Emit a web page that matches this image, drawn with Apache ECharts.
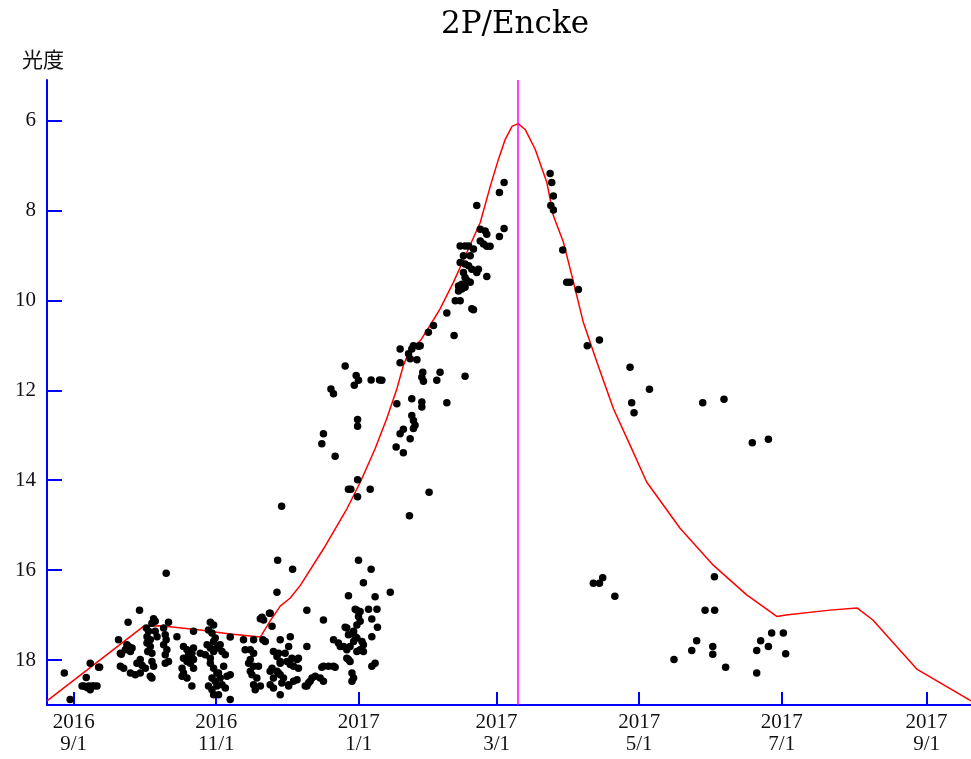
<!DOCTYPE html>
<html><head><meta charset="utf-8">
<script src="https://cdn.jsdelivr.net/npm/echarts@6/dist/echarts.min.js"></script>
<style>html,body{margin:0;padding:0;background:#fff}#c{width:971px;height:759px}</style>
</head><body><div id="c"></div>
<script>
// ---- data ----
const chartTitle = '2P/Encke';
const yAxisName = '光度';
const baseDate = '2016-09-01';              // day 0 of the day offsets below
const xRangeDays = [-11.4, 384];            // axis range, days from baseDate
const yRange = [5.1, 19];                   // magnitude (inverted axis)
const yTicks = [6, 8, 10, 12, 14, 16, 18];
const xTickDates = ['2016-09-01','2016-11-01','2017-01-01','2017-03-01','2017-05-01','2017-07-01','2017-09-01'];
const perihelionDate = '2017-03-10';

// model light curve (days from baseDate, magnitude)
const modelDay = [-11.4, 29.9, 37.1, 54.2, 67.0, 79.9, 84.1, 88.4, 92.7, 97.0, 107.0, 117.0, 122.7, 129.0, 134.0, 138.3, 141.1, 144.0, 148.3, 152.5, 156.8, 162.5, 168.3, 174.0, 178.3, 181.8, 184.7, 187.6, 190.2, 193.2, 197.5, 202.5, 205.3, 209.6, 213.2, 218.1, 223.9, 231.0, 238.1, 245.2, 259.5, 273.7, 288.0, 300.9, 304.8, 323.6, 335.2, 342.0, 360.8, 384.0];
const modelMag = [18.91, 17.25, 17.24, 17.33, 17.42, 17.49, 17.13, 16.80, 16.62, 16.34, 15.52, 14.63, 14.04, 13.30, 12.63, 11.97, 11.45, 11.08, 10.90, 10.56, 10.19, 9.60, 8.93, 8.27, 7.46, 6.86, 6.42, 6.13, 6.07, 6.20, 6.64, 7.38, 8.12, 8.71, 9.45, 10.49, 11.37, 12.41, 13.22, 14.04, 15.07, 15.89, 16.55, 17.03, 17.00, 16.89, 16.84, 17.11, 18.20, 18.91];

// observations [days from baseDate, magnitude]
const obsSep = [[-4.0,18.29],[-1.5,18.88],[3.6,18.58],[4.3,18.58],[5.7,18.61],[6.4,18.58],[7.9,18.58],[8.6,18.58],[10.0,18.58],[7.1,18.66],[5.4,18.39],[7.1,18.07],[10.7,18.16],[11.1,18.16]];
const obsOct = [[28.2,16.89],[23.3,17.16],[34.2,17.08],[34.9,17.14],[33.5,17.18],[40.6,17.16],[19.2,17.55],[31.1,17.29],[32.1,17.36],[31.4,17.48],[32.8,17.55],[34.9,17.36],[35.7,17.48],[38.5,17.29],[39.2,17.44],[39.6,17.55],[44.2,17.48],[51.3,17.36],[22.8,17.66],[24.0,17.75],[22.1,17.77],[20.0,17.85],[25.0,17.73],[31.4,17.62],[32.8,17.70],[31.7,17.81],[33.5,17.85],[38.5,17.66],[39.9,17.77],[39.2,17.88],[40.6,18.03],[47.0,17.70],[48.5,17.77],[49.2,17.88],[47.0,17.96],[48.5,18.03],[50.6,17.85],[51.3,17.73],[28.5,17.99],[27.1,18.07],[29.3,18.12],[30.7,18.18],[20.0,18.14],[21.4,18.18],[33.5,18.03],[34.2,18.14],[39.2,18.07],[24.3,18.29],[26.4,18.33],[28.5,18.29],[32.8,18.36],[33.5,18.40],[46.4,18.18],[47.0,18.29],[48.5,18.40],[46.4,18.36],[51.3,17.99],[49.9,18.07],[50.6,18.58],[39.6,16.07],[23.5,17.70],[24.3,17.81],[20.4,17.87],[50.6,17.96],[51.3,18.18]];
const obsNov = [[58.5,17.16],[59.9,17.22],[57.7,17.33],[59.2,17.40],[60.6,17.51],[59.9,17.59],[67.0,17.49],[57.1,17.66],[58.5,17.73],[59.9,17.81],[61.3,17.73],[62.7,17.66],[63.5,17.81],[54.2,17.85],[56.3,17.88],[58.5,17.96],[64.9,17.88],[58.5,18.07],[59.9,18.18],[61.3,18.29],[59.2,18.40],[60.6,18.47],[62.7,18.40],[65.6,18.36],[67.0,18.33],[64.2,18.14],[62.0,18.29],[57.7,18.58],[59.2,18.66],[61.3,18.58],[63.5,18.55],[64.9,18.62],[59.9,18.77],[62.0,18.77],[67.0,18.88]];
const obsDec = [[72.7,17.55],[77.0,17.55],[79.9,17.08],[81.3,17.11],[83.8,16.96],[84.9,17.25],[87.0,16.49],[81.0,17.55],[82.0,17.59],[88.4,17.55],[92.7,17.48],[92.0,17.70],[73.4,17.77],[75.6,17.77],[77.0,17.85],[85.5,17.81],[87.0,17.92],[88.4,18.03],[90.5,17.85],[91.3,18.03],[93.4,17.96],[95.6,17.99],[75.6,17.99],[74.9,18.07],[77.0,18.14],[79.1,18.14],[75.6,18.25],[76.3,18.33],[78.4,18.40],[84.1,18.25],[87.0,18.25],[88.4,18.33],[85.5,18.40],[89.8,18.40],[92.0,18.55],[94.1,18.14],[96.2,18.18],[77.0,18.55],[79.9,18.58],[84.1,18.55],[85.5,18.62],[88.4,18.77],[77.7,18.66],[87.7,17.85],[92.7,18.10],[96.2,17.96],[94.1,18.47],[95.6,18.44],[89.1,18.51],[92.0,18.58],[84.9,18.18],[87.7,18.29],[88.4,18.07],[87.3,15.78],[93.7,15.98],[89.0,14.58],[84.1,16.96],[80.6,17.05]];
const obsJan = [[99.8,16.89],[106.9,17.11],[99.8,17.70],[111.2,17.55],[99.8,18.58],[101.2,18.47],[103.4,18.36],[99.1,18.58],[100.5,18.51],[102.0,18.40],[105.5,18.40],[106.9,18.47],[106.9,18.14],[109.1,18.14],[111.2,18.14],[117.6,16.57],[121.2,16.89],[121.9,17.03],[116.9,17.29],[117.6,17.44],[119.8,17.36],[121.2,17.22],[122.6,17.14],[113.3,17.62],[115.5,17.70],[116.9,17.77],[118.3,17.70],[119.8,17.59],[121.2,17.51],[116.9,17.96],[118.3,18.03],[119.1,18.29],[119.8,18.40],[121.9,15.78],[127.3,15.98],[124.0,16.28],[135.5,16.49],[129.0,16.59],[120.5,16.87],[122.6,16.92],[126.2,16.87],[129.8,16.87],[127.6,17.09],[116.2,17.27],[130.0,17.27],[114.1,17.70],[120.5,17.48],[123.4,17.59],[124.0,17.66],[127.6,17.48],[121.2,17.81],[122.6,17.77],[124.0,17.81],[117.6,17.99],[127.6,18.14],[129.0,18.07],[106.2,18.16],[111.9,18.16],[119.1,18.47]];
const obsRise = [[116.2,11.46],[120.9,11.67],[121.9,11.78],[120.1,11.89],[127.3,11.77],[130.9,11.77],[110.1,11.97],[111.2,12.08],[121.5,12.65],[121.5,12.80],[106.9,12.97],[106.2,13.19],[111.9,13.47],[121.5,13.99],[117.6,14.20],[118.6,14.20],[121.5,14.37],[126.9,14.20],[139.7,11.08],[143.3,11.19],[145.4,11.01],[147.6,11.02],[139.7,11.39],[144.0,11.30],[146.9,11.32],[149.4,11.60],[149.0,11.71],[149.7,11.80],[155.4,11.78],[156.8,11.60],[138.3,12.30],[144.7,12.19],[149.0,12.26],[149.0,12.37],[144.7,12.56],[145.4,12.67],[146.1,12.78],[145.4,12.85],[141.1,12.87],[139.7,12.97],[144.0,13.08],[138.0,13.26],[141.1,13.39],[152.1,14.27],[143.7,14.79],[131.9,11.78],[159.7,12.28],[167.5,11.69],[144.7,11.08],[148.3,11.01]];
const obsFeb = [[184.2,7.38],[182.2,7.60],[172.5,7.89],[184.2,8.40],[182.2,8.58],[174.0,8.42],[176.1,8.46],[176.8,8.53],[174.0,8.68],[175.4,8.75],[176.8,8.80],[178.2,8.80],[165.4,8.79],[167.5,8.79],[169.0,8.79],[171.1,8.86],[166.8,9.01],[169.7,9.01],[165.4,9.16],[167.5,9.19],[169.0,9.23],[170.4,9.31],[173.2,9.31],[172.5,9.38],[176.8,9.47],[166.8,9.38],[167.5,9.49],[168.3,9.56],[166.1,9.64],[164.7,9.68],[166.1,9.75],[164.7,9.79],[167.5,9.71],[169.7,9.60],[163.3,10.01],[165.4,10.01],[170.4,10.19],[171.1,10.21],[159.7,10.28],[154.0,10.56],[151.8,10.71],[162.8,10.78]];
const obsAfter = [[203.9,7.18],[204.6,7.38],[205.3,7.68],[204.2,7.89],[205.3,7.99],[209.3,8.88],[211.0,9.60],[212.4,9.60],[216.0,9.76],[219.8,11.01],[225.0,10.88],[238.1,11.49],[246.4,11.98],[238.8,12.28],[239.8,12.50],[269.2,12.28],[278.3,12.20],[290.4,13.17],[297.3,13.09],[222.4,16.29],[225.0,16.29],[226.4,16.17],[231.6,16.58],[274.2,16.15],[270.2,16.89],[274.3,16.89],[256.9,17.99],[264.5,17.79],[266.6,17.57],[273.5,17.70],[273.5,17.87],[279.0,18.16],[292.3,17.79],[294.0,17.57],[297.3,17.70],[298.7,17.40],[303.7,17.40],[304.7,17.86],[292.3,18.29]];

// ---- build ----
const DAY = 86400000;
const base = Date.parse(baseDate + 'T00:00:00Z');
const toTs = d => base + d * DAY;
const obs = [].concat(obsSep, obsOct, obsNov, obsDec, obsJan, obsRise, obsFeb, obsAfter).map(p => [toTs(p[0]), p[1]]);
const model = modelDay.map((d, i) => [toTs(d), modelMag[i]]);
const xTicks = xTickDates.map(s => Date.parse(s + 'T00:00:00Z'));
const peri = Date.parse(perihelionDate + 'T00:00:00Z');

const blue = '#0000ff';
const chart = echarts.init(document.getElementById('c'));
chart.setOption({
  backgroundColor: '#ffffff',
  animation: false,
  title: {
    text: chartTitle, left: 510, top: 4, textAlign: 'center',
    textStyle: { fontFamily: 'DejaVu Serif', fontSize: 31, fontWeight: 'normal', color: '#000' }
  },
  grid: { left: 47, right: 0, top: 80, bottom: 54, containLabel: false },
  xAxis: {
    type: 'value', min: toTs(xRangeDays[0]), max: toTs(xRangeDays[1]),
    axisLine: { show: true, onZero: false, lineStyle: { color: blue, width: 2 } },
    axisTick: { show: true, inside: true, length: 13, customValues: xTicks, lineStyle: { color: blue, width: 2 } },
    axisLabel: {
      customValues: xTicks, margin: 6, color: '#111',
      fontFamily: 'Liberation Serif', fontSize: 21, lineHeight: 22,
      formatter: v => { const d = new Date(v); return d.getUTCFullYear() + '\n' + (d.getUTCMonth() + 1) + '/' + d.getUTCDate(); }
    },
    splitLine: { show: false }
  },
  yAxis: {
    type: 'value', inverse: true, min: yRange[0], max: yRange[1],
    axisLine: { show: true, lineStyle: { color: blue, width: 2 } },
    axisTick: { show: true, inside: true, length: 15, customValues: yTicks, lineStyle: { color: blue, width: 2 } },
    axisLabel: { customValues: yTicks, margin: 11, color: '#111', fontFamily: 'Liberation Serif', fontSize: 21 },
    splitLine: { show: false }
  },
  graphic: [{
    type: 'text', left: 22, top: 49,
    style: { text: yAxisName, fontFamily: 'Noto Sans CJK JP', fontSize: 21, fill: '#111' }
  }],
  series: [
    {
      type: 'line', data: model, showSymbol: false, symbol: 'none',
      lineStyle: { color: '#ff0000', width: 1.5 }, z: 2,
      markLine: {
        silent: true, symbol: 'none', label: { show: false },
        lineStyle: { color: '#ff00ff', width: 1.5, type: 'solid' },
        data: [{ xAxis: peri }]
      }
    },
    {
      type: 'scatter', data: obs, symbol: 'circle', symbolSize: 7.5,
      itemStyle: { color: '#000', opacity: 1 }, z: 3
    }
  ]
});
</script></body></html>
